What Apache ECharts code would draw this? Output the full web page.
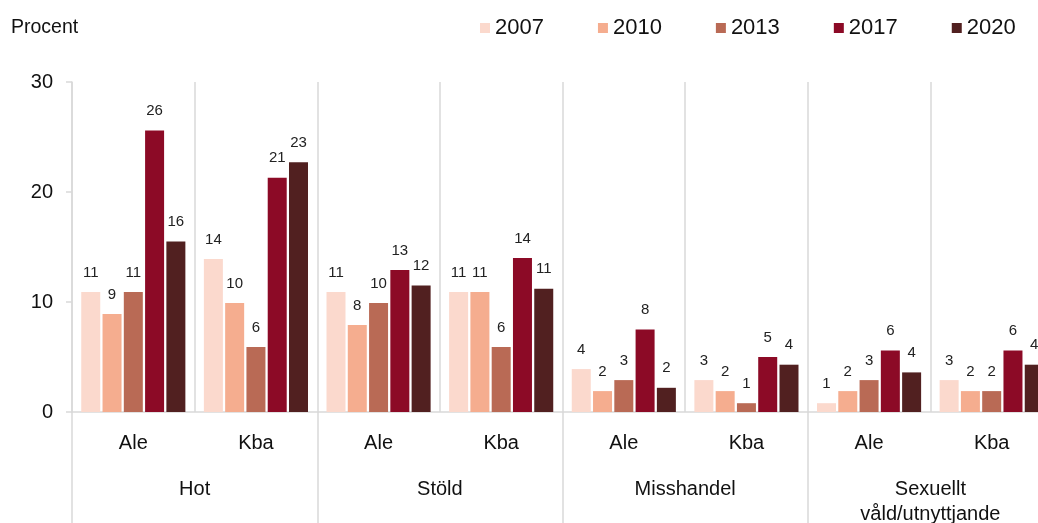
<!DOCTYPE html>
<html>
<head>
<meta charset="utf-8">
<script src="https://cdn.jsdelivr.net/npm/echarts@6/dist/echarts.min.js"></script>
<style>
  html, body { margin: 0; padding: 0; background: #fff; }
  #chart { width: 1038px; height: 523px; }
</style>
</head>
<body>
<div id="chart"></div>
<script>
const places = ['Ale', 'Kba', 'Ale', 'Kba', 'Ale', 'Kba', 'Ale', 'Kba']
const crimes = ['Hot', 'Stöld', 'Misshandel', 'Sexuellt\nvåld/utnyttjande']
const years = ['2007', '2010', '2013', '2017', '2020']
const yTicks = [0, 10, 20, 30]

const v2007 = [10.9, 13.9, 10.9, 10.9, 3.9, 2.9, 0.8, 2.9]
const v2010 = [8.9, 9.9, 7.9, 10.9, 1.9, 1.9, 1.9, 1.9]
const v2013 = [10.9, 5.9, 9.9, 5.9, 2.9, 0.8, 2.9, 1.9]
const v2017 = [25.6, 21.3, 12.9, 14.0, 7.5, 5.0, 5.6, 5.6]
const v2020 = [15.5, 22.7, 11.5, 11.2, 2.2, 4.3, 3.6, 4.3]

const colors = ['#fbd9cd', '#f5ad8f', '#b96a55', '#8c0a26', '#512020']
const font = 'Liberation Sans, Arial, sans-serif'
const grey = '#d9d9d9'

const chart = echarts.init(document.getElementById('chart'))

function bar(name, data, i) {
  return {
    name,
    type: 'bar',
    xAxisIndex: 0,
    data,
    barWidth: 19,
    barGap: '12%',
    itemStyle: { color: colors[i] },
    label: {
      show: true,
      position: 'top',
      distance: 12,
      fontFamily: font,
      fontSize: 15,
      color: '#222',
      formatter: p => Math.round(p.value),
    },
  }
}

chart.setOption({
  animation: false,
  title: {
    text: 'Procent',
    left: 11,
    top: 18,
    padding: 0,
    textStyle: { fontFamily: font, fontSize: 19.5, fontWeight: 'normal', color: '#111' },
  },
  legend: {
    data: years,
    left: 480,
    top: 17,
    padding: 0,
    itemWidth: 10,
    itemHeight: 10,
    itemGap: 54,
    icon: 'rect',
    textStyle: { fontFamily: font, fontSize: 22, color: '#111' },
  },
  grid: {
    left: 72,
    width: 981,
    top: 82,
    bottom: 111,
    outerBoundsMode: 'none',
    containLabel: false,
  },
  xAxis: [
    {
      type: 'category',
      data: places,
      position: 'bottom',
      axisLine: { show: true, lineStyle: { color: grey, width: 1.5 } },
      axisTick: { show: false },
      splitLine: { show: true, interval: 0, lineStyle: { color: grey, width: 1.5 } },
      axisLabel: { fontFamily: font, fontSize: 20, color: '#111', margin: 21, interval: 0 },
    },
    {
      type: 'category',
      data: crimes,
      position: 'bottom',
      axisLine: { show: false },
      axisTick: { show: true, length: 115, interval: 0, lineStyle: { color: grey, width: 1.5 } },
      axisLabel: { fontFamily: font, fontSize: 20, color: '#111', margin: 65, lineHeight: 25, interval: 0 },
      splitLine: { show: false },
    },
  ],
  yAxis: {
    type: 'value',
    min: yTicks[0],
    max: yTicks[yTicks.length - 1],
    interval: 10,
    axisLine: { show: true, lineStyle: { color: grey, width: 1.5 } },
    axisTick: { show: true, length: 6, lineStyle: { color: grey, width: 1.5 } },
    splitLine: { show: false },
    axisLabel: { fontFamily: font, fontSize: 20, color: '#111', margin: 19 },
  },
  series: [
    bar(years[0], v2007, 0),
    bar(years[1], v2010, 1),
    bar(years[2], v2013, 2),
    bar(years[3], v2017, 3),
    bar(years[4], v2020, 4),
  ],
})
</script>
</body>
</html>
